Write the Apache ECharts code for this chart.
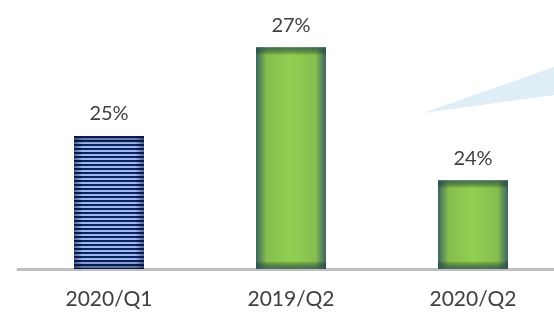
<!DOCTYPE html>
<html>
<head>
<meta charset="utf-8">
<script src="https://cdn.jsdelivr.net/npm/echarts@6/dist/echarts.min.js"></script>
<style>
html, body { margin: 0; padding: 0; background: #fff; }
#main { width: 554px; height: 317px; }
</style>
</head>
<body>
<div id="main"></div>
<script>
var categories = ['2020/Q1', '2019/Q2', '2020/Q2'];
var values = [25, 27, 24];
var labels = ['25%', '27%', '24%'];

// striped fill for the first bar
var stripe = document.createElement('canvas');
stripe.width = 4;
stripe.height = 4;
var sctx = stripe.getContext('2d');
sctx.fillStyle = '#9bb9ee';
sctx.fillRect(0, 0, 4, 4);
sctx.fillStyle = '#0c1f5e';
sctx.fillRect(0, 0, 4, 2);

function sideShade(edge) {
	return {
		type: 'linear', x: 0, y: 0, x2: 1, y2: 0,
		colorStops: [
			{ offset: 0, color: edge },
			{ offset: 0.12, color: 'rgba(0,0,0,0)' },
			{ offset: 0.88, color: 'rgba(0,0,0,0)' },
			{ offset: 1, color: edge }
		]
	};
}

function vertShade(edge, h) {
	var f = 8 / h;
	return {
		type: 'linear', x: 0, y: 0, x2: 0, y2: 1,
		colorStops: [
			{ offset: 0, color: edge },
			{ offset: f, color: 'rgba(0,0,0,0)' },
			{ offset: 1 - f, color: 'rgba(0,0,0,0)' },
			{ offset: 1, color: edge }
		]
	};
}

var chart = echarts.init(document.getElementById('main'));

var base = values.map(function (v, i) {
	if (i === 0) {
		return { value: v, itemStyle: { color: { image: stripe, repeat: 'repeat' } } };
	}
	return {
		value: v,
		itemStyle: {
			color: {
				type: 'linear', x: 0, y: 0, x2: 1, y2: 0,
				colorStops: [
					{ offset: 0, color: '#3d6560' },
					{ offset: 0.15, color: '#84bf4f' },
					{ offset: 0.5, color: '#92d050' },
					{ offset: 0.85, color: '#84bf4f' },
					{ offset: 1, color: '#3d6560' }
				]
			}
		}
	};
});

var shade = values.map(function (v, i) {
	var h = (v - 22) * 44.3;
	var edge = i === 0 ? 'rgba(10,25,70,0.55)' : 'rgba(50,90,100,0.8)';
	return { value: v, itemStyle: { color: vertShade(edge, h) } };
});

var sideOverlay = values.map(function (v, i) {
	return { value: v, itemStyle: { color: sideShade(i === 0 ? 'rgba(10,25,70,0.5)' : 'rgba(0,0,0,0)') } };
});

chart.setOption({
	animation: false,
	grid: { left: 18, width: 546, top: 3, bottom: 48, outerBoundsMode: 'none' },
	xAxis: {
		type: 'category',
		data: categories,
		axisLine: { lineStyle: { color: '#bfbfbf', width: 3 } },
		axisTick: { show: false },
		axisLabel: {
			color: '#404040',
			fontSize: 21,
			fontFamily: 'Lato',
			margin: 20
		}
	},
	yAxis: {
		type: 'value',
		min: 22,
		max: 28,
		show: false,
		splitLine: { show: false }
	},
	graphic: [{
		type: 'polygon',
		silent: true,
		z: -1,
		shape: { points: [[423, 113], [554, 67], [554, 95]] },
		style: { fill: '#deedf6' }
	}],
	series: [{
		type: 'bar',
		data: base,
		barWidth: 70,
		label: {
			show: true,
			position: 'top',
			distance: 12,
			color: '#404040',
			fontSize: 20,
			fontFamily: 'Lato',
			formatter: function (p) { return labels[p.dataIndex]; }
		}
	}, {
		type: 'bar',
		data: sideOverlay,
		barWidth: 70,
		barGap: '-100%',
		silent: true
	}, {
		type: 'bar',
		data: shade,
		barWidth: 70,
		barGap: '-100%',
		silent: true
	}]
});
</script>
</body>
</html>
